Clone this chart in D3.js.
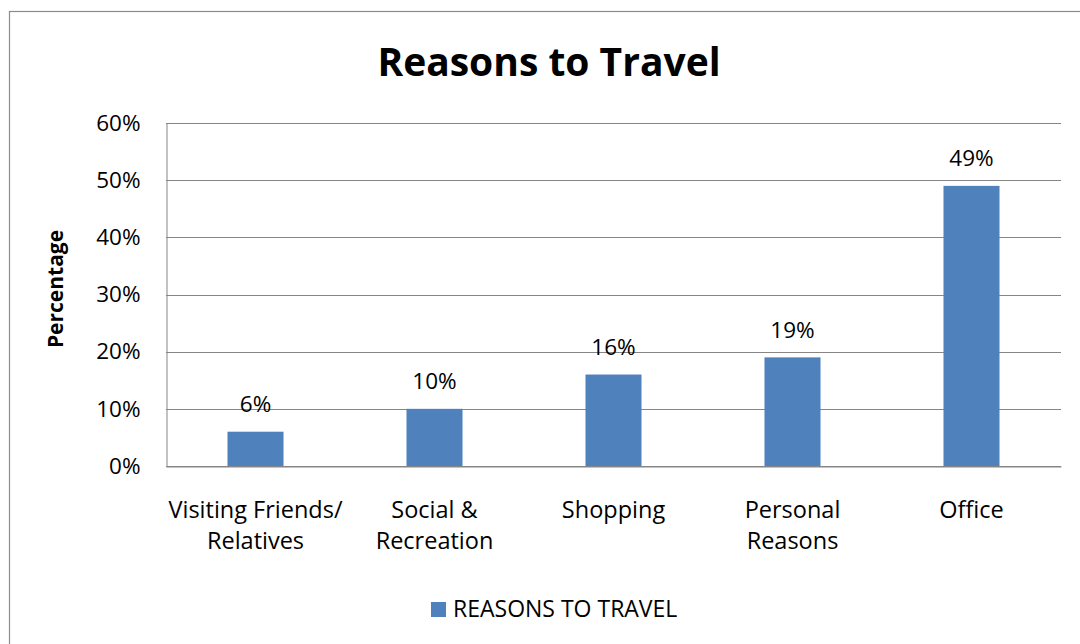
<!DOCTYPE html>
<html>
<head>
<meta charset="utf-8">
<script src="https://cdn.jsdelivr.net/npm/d3@7"></script>
<style>
  html, body { margin: 0; padding: 0; background: #fff; }
  svg { display: block; font-family: "Open Sans", Lato, sans-serif; }
</style>
</head>
<body>
<svg id="chart" width="1080" height="644"></svg>
<script>
const title = "Reasons to Travel";
const yAxisTitle = "Percentage";
const seriesName = "REASONS TO TRAVEL";
const categories = ["Visiting Friends/\nRelatives", "Social &\nRecreation", "Shopping", "Personal\nReasons", "Office"];
const values = [6, 10, 16, 19, 49];
const yTicks = [0, 10, 20, 30, 40, 50, 60];

const svg = d3.select("#chart");
const W = 1080, H = 644;
const plot = { left: 166, right: 1061, top: 123, bottom: 466 };
const gridColor = "#868686";
const barColor = "#4f81bd";
const fontFam = "'Open Sans', Lato, sans-serif";
const fs = 22.5;

// outer chart border (extends past the viewport on right and bottom)
svg.append("rect")
  .attr("x", 9.5).attr("y", 11.5)
  .attr("width", W + 20).attr("height", H + 20)
  .attr("fill", "#fff").attr("stroke", "#8c8c8c").attr("stroke-width", 1.2);

const x = d3.scaleBand().domain(categories).range([plot.left, plot.right]).padding(0);
const y = d3.scaleLinear().domain([0, 60]).range([plot.bottom, plot.top]);

// gridlines
svg.append("g")
  .selectAll("line")
  .data(yTicks)
  .join("line")
  .attr("x1", plot.left).attr("x2", plot.right)
  .attr("y1", d => Math.round(y(d)) + 0.5).attr("y2", d => Math.round(y(d)) + 0.5)
  .attr("stroke", gridColor).attr("stroke-width", 1);

// y axis
const yAxis = d3.axisLeft(y).tickValues(yTicks).tickFormat(d => d + "%").tickSize(0).tickPadding(26);
const yg = svg.append("g").attr("transform", `translate(${plot.left + 0.5},0)`).call(yAxis);
yg.select(".domain").attr("stroke", gridColor).attr("stroke-width", 1);
yg.selectAll("text").attr("font-size", fs).attr("fill", "#000").attr("font-family", fontFam);

// x axis
const xAxis = d3.axisBottom(x).tickSize(0).tickFormat(() => "");
const xg = svg.append("g").attr("transform", `translate(0,${Math.round(plot.bottom) + 0.5})`).call(xAxis);
xg.select(".domain").attr("stroke", gridColor).attr("stroke-width", 1);
xg.selectAll(".tick").each(function(d) {
  const t = d3.select(this).append("text")
    .attr("text-anchor", "middle")
    .attr("font-size", 23.5)
    .attr("font-family", fontFam)
    .attr("fill", "#000");
  d.split("\n").forEach((line, i) => {
    t.append("tspan").attr("x", 0).attr("y", 51.5 + i * 30.5).text(line);
  });
});

// bars
const barW = x.bandwidth() * 0.313;
svg.append("g")
  .selectAll("rect")
  .data(values)
  .join("rect")
  .attr("x", (d, i) => x(categories[i]) + x.bandwidth() / 2 - barW / 2)
  .attr("y", d => y(d))
  .attr("width", barW)
  .attr("height", d => y(0) - y(d))
  .attr("fill", barColor);

// value labels
svg.append("g")
  .selectAll("text")
  .data(values)
  .join("text")
  .attr("x", (d, i) => x(categories[i]) + x.bandwidth() / 2)
  .attr("y", d => y(d) - 19.5)
  .attr("text-anchor", "middle")
  .attr("font-size", fs)
  .attr("fill", "#000")
  .text(d => d + "%");

// title
svg.append("text")
  .attr("x", 549).attr("y", 76)
  .attr("text-anchor", "middle")
  .attr("font-size", 39).attr("font-weight", "bold")
  .attr("fill", "#000")
  .text(title);

// y axis title
svg.append("text")
  .attr("transform", `translate(63,289) rotate(-90)`)
  .attr("text-anchor", "middle")
  .attr("font-size", 21).attr("font-weight", "bold")
  .attr("fill", "#000")
  .text(yAxisTitle);

// legend
const lg = svg.append("g");
lg.append("rect").attr("x", 431).attr("y", 602).attr("width", 15).attr("height", 15).attr("fill", barColor);
lg.append("text").attr("x", 453).attr("y", 617).attr("font-size", 23).attr("fill", "#000").text(seriesName);
</script>
</body>
</html>
